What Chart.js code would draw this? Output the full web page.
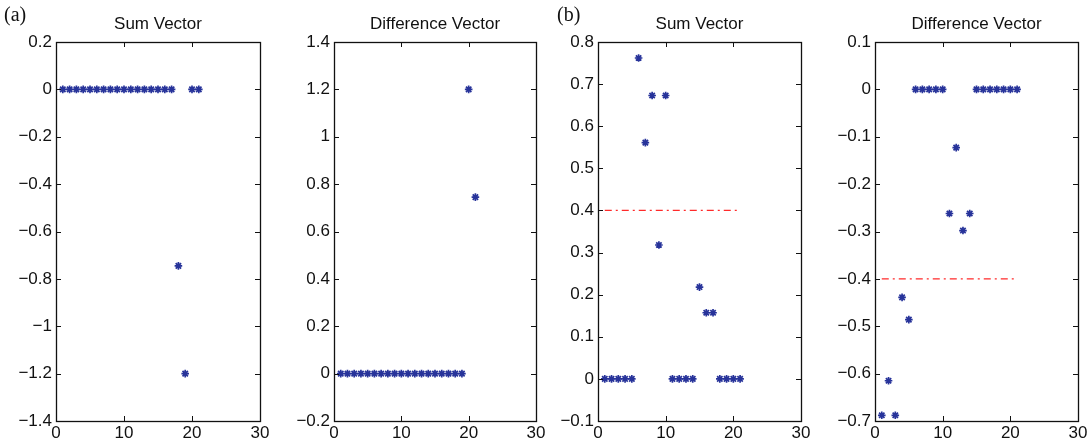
<!DOCTYPE html>
<html>
<head>
<meta charset="utf-8">
<script src="https://cdn.jsdelivr.net/npm/chart.js@4/dist/chart.umd.min.js"></script>
<style>
  html, body { margin: 0; padding: 0; background: #fff; }
  body { width: 1089px; height: 446px; position: relative; overflow: hidden; }
  canvas { position: absolute; top: 0; }
</style>
</head>
<body>
<canvas id="c1"></canvas>
<canvas id="c2"></canvas>
<canvas id="c3"></canvas>
<canvas id="c4"></canvas>
<script>
// vector index 1..21
const idx = [1, 2, 3, 4, 5, 6, 7, 8, 9, 10, 11, 12, 13, 14, 15, 16, 17, 18, 19, 20, 21]

// (a)
const sumA  = [0, 0, 0, 0, 0, 0, 0, 0, 0, 0, 0, 0, 0, 0, 0, 0, 0, -0.745, -1.2, 0, 0]
const diffA = [0, 0, 0, 0, 0, 0, 0, 0, 0, 0, 0, 0, 0, 0, 0, 0, 0, 0, 0, 1.2, 0.745]

// (b)
const sumB  = [0, 0, 0, 0, 0, 0.762, 0.561, 0.673, 0.318, 0.673, 0, 0, 0, 0, 0.218, 0.157, 0.157, 0, 0, 0, 0]
const diffB = [-0.688, -0.615, -0.688, -0.439, -0.486, 0, 0, 0, 0, 0, -0.262, -0.123, -0.298, -0.262, 0, 0, 0, 0, 0, 0, 0]

// threshold lines in (b)
const thrX = [1, 21]
const thrSumB = 0.4
const thrDiffB = -0.4

const xTicks = [0, 10, 20, 30]
const yRangeSumA  = [-1.4, 0.2, 0.2]
const yRangeDiffA = [-0.2, 1.4, 0.2]
const yRangeSumB  = [-0.1, 0.8, 0.1]
const yRangeDiffB = [-0.7, 0.1, 0.1]

const FONT = 'Liberation Sans'
const MARK = '#27339a'
const H = 446
const TOP = 42
const BOTTOM = 421
const YW = 60

// 박스 + 안쪽 눈금 + 제목 (MATLAB 스타일)
const matlabFrame = {
  id: 'matlabFrame',
  afterDraw(chart, args, opts) {
    const { ctx, chartArea: a } = chart
    const xs = chart.scales.x
    const ys = chart.scales.y
    ctx.save()
    ctx.strokeStyle = '#111'
    ctx.lineWidth = 1.3
    ctx.strokeRect(Math.round(a.left) + 0.5, Math.round(a.top) + 0.5,
      Math.round(a.right - a.left), Math.round(a.bottom - a.top))
    ctx.beginPath()
    ctx.lineWidth = 1
    const tl = 5
    xs.ticks.forEach(t => {
      const px = Math.round(xs.getPixelForValue(t.value)) + 0.5
      ctx.moveTo(px, a.top); ctx.lineTo(px, a.top + tl)
      ctx.moveTo(px, a.bottom); ctx.lineTo(px, a.bottom - tl)
    })
    ys.ticks.forEach(t => {
      const py = Math.round(ys.getPixelForValue(t.value)) + 0.5
      ctx.moveTo(a.left, py); ctx.lineTo(a.left + tl, py)
      ctx.moveTo(a.right, py); ctx.lineTo(a.right - tl, py)
    })
    ctx.stroke()

    ctx.fillStyle = '#111'
    ctx.textAlign = 'center'
    ctx.textBaseline = 'middle'
    ctx.font = `17px "${FONT}"`
    ctx.fillText(opts.title, (a.left + a.right) / 2, 24)
    if (opts.tag) {
      ctx.textAlign = 'left'
      ctx.font = '20px "Liberation Serif"'
      ctx.fillText(opts.tag, opts.tagX, 16)
    }
    ctx.restore()
  },
}

function fmt(v) {
  const r = Math.round(v * 10) / 10
  return String(r).replace('-', '\u2212')
}

function makePanel(id, plotLeft, plotRight, values, yRange, title, tag, tagX, thr) {
  const el = document.getElementById(id)
  const left = plotLeft - YW
  const width = plotRight - plotLeft + YW + 10
  el.width = width
  el.height = H
  el.style.left = left + 'px'

  const datasets = [{
    type: 'scatter',
    data: idx.map((x, i) => ({ x, y: values[i] })),
    pointStyle: 'star',
    pointRadius: 3.8,
    pointBorderWidth: 1.7,
    borderColor: MARK,
    backgroundColor: MARK,
    pointHoverRadius: 3.8,
    clip: false,
  }]
  if (thr !== undefined) {
    datasets.push({
      type: 'line',
      data: thrX.map(x => ({ x, y: thr })),
      borderColor: '#ff2a2a',
      borderWidth: 1.2,
      borderDash: [7, 4, 2, 4],
      pointRadius: 0,
      fill: false,
    })
  }

  return new Chart(el, {
    type: 'scatter',
    data: { datasets },
    options: {
      responsive: false,
      animation: false,
      devicePixelRatio: 1,
      layout: { padding: { left: 0, right: 10, top: TOP, bottom: 0 } },
      plugins: {
        legend: { display: false },
        tooltip: { enabled: false },
        matlabFrame: { title, tag, tagX },
      },
      scales: {
        x: {
          type: 'linear',
          min: 0,
          max: 30,
          grid: { display: false, drawTicks: false },
          border: { display: false },
          afterBuildTicks: s => { s.ticks = xTicks.map(v => ({ value: v })) },
          afterFit: s => { s.height = H - BOTTOM; s.paddingLeft = 0; s.paddingRight = 0 },
          ticks: {
            color: '#111',
            padding: 2,
            maxRotation: 0,
            font: { family: FONT, size: 17 },
          },
        },
        y: {
          type: 'linear',
          min: yRange[0],
          max: yRange[1],
          grid: { display: false, drawTicks: false },
          border: { display: false },
          afterFit: s => { s.width = YW; s.paddingTop = 0; s.paddingBottom = 0 },
          ticks: {
            stepSize: yRange[2],
            color: '#111',
            padding: 4,
            font: { family: FONT, size: 17 },
            callback: v => fmt(v),
          },
        },
      },
    },
    plugins: [matlabFrame],
  })
}

makePanel('c1', 56, 260, sumA, yRangeSumA, 'Sum Vector', '(a)', 8)
makePanel('c2', 334, 536, diffA, yRangeDiffA, 'Difference Vector')
makePanel('c3', 598, 801, sumB, yRangeSumB, 'Sum Vector', '(b)', 557 - 540 + 2, thrSumB)
makePanel('c4', 875, 1078, diffB, yRangeDiffB, 'Difference Vector', undefined, 0, thrDiffB)
</script>
</body>
</html>
